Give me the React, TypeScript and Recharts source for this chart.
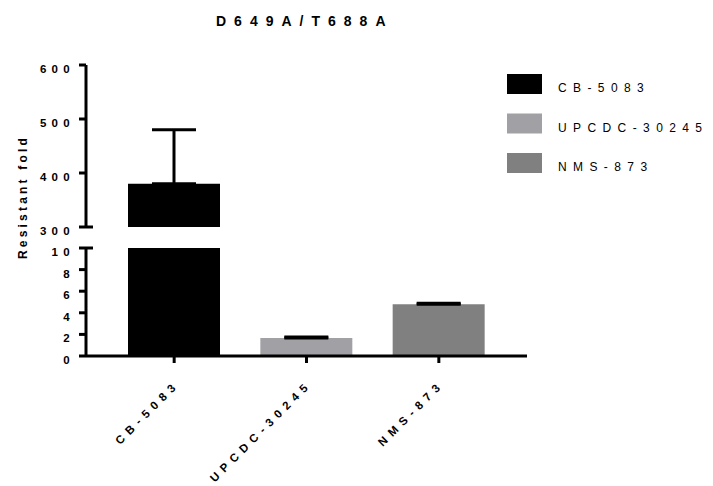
import { Bar, BarChart, Cell, ErrorBar, XAxis, YAxis } from 'recharts'

const categories = ['CB-5083', 'UPCDC-30245', 'NMS-873']
const foldMeans = [380, 1.67, 4.8]
const foldErrors = [100, 0.1, 0.08]
const barColors = ['#000000', '#a1a0a5', '#808080']

const upperTicks = [300, 400, 500, 600]
const lowerTicks = [0, 2, 4, 6, 8, 10]
const title = 'D649A/T688A'
const yLabel = 'Resistant fold'

const FONT = '"Liberation Sans", Arial, Helvetica, sans-serif'
const TICK_SIZE = 7
const TICK_MARGIN = 4

// split the values at the axis break: the upper panel only shows what is above 300
const upperRows = categories.map((name, i) => ({
  name,
  value: foldMeans[i] >= upperTicks[0] ? foldMeans[i] : null,
  err: [0, foldMeans[i] >= upperTicks[0] ? foldErrors[i] : 0],
}))
const lowerRows = categories.map((name, i) => ({
  name,
  value: foldMeans[i],
  err: [0, foldMeans[i] <= lowerTicks[lowerTicks.length - 1] ? foldErrors[i] : 0],
}))

const axisLine = { stroke: '#000', strokeWidth: 3 }
const tickLine = { stroke: '#000', strokeWidth: 3 }

function YTick(props: any) {
  const { x, y, payload, breakAt } = props
  const axisX = x + TICK_SIZE + TICK_MARGIN
  return (
    <g>
      <text
        x={x}
        y={y}
        dy={8}
        textAnchor="end"
        fill="#000"
        style={{ fontFamily: FONT, fontWeight: 700, fontSize: 11.5, letterSpacing: 5.3 }}
      >
        {payload.value}
      </text>
      {payload.value === breakAt && (
        <line x1={axisX} x2={axisX + TICK_SIZE} y1={y} y2={y} stroke="#000" strokeWidth={3} />
      )}
    </g>
  )
}

function XTick(props: any) {
  const { x, y, payload } = props
  const tx = x + 6
  const ty = y + 20
  return (
    <text
      x={tx}
      y={ty}
      transform={`rotate(-45 ${tx} ${ty})`}
      textAnchor="end"
      fill="#000"
      style={{ fontFamily: FONT, fontWeight: 700, fontSize: 11.5, letterSpacing: 5.6 }}
    >
      {payload.value}
    </text>
  )
}

export default function App() {
  return (
    <div style={{ position: 'absolute', left: 0, top: 0, width: 713, height: 486, background: '#fff', overflow: 'hidden' }}>
      <div style={{ position: 'absolute', left: 0, top: 0 }}>
        <BarChart width={713} height={240} data={upperRows} margin={{ top: 65, right: 186, bottom: 13, left: 0 }}>
          <XAxis dataKey="name" hide padding={{ left: 22, right: 22 }} />
          <YAxis
            width={86}
            domain={[300, 600]}
            ticks={upperTicks}
            allowDataOverflow
            interval={0}
            axisLine={axisLine}
            tickLine={tickLine}
            tickSize={TICK_SIZE}
            tickMargin={TICK_MARGIN}
            tick={<YTick breakAt={300} />}
          />
          <Bar dataKey="value" barSize={92} isAnimationActive={false}>
            {upperRows.map((r, i) => (
              <Cell key={r.name} fill={barColors[i]} />
            ))}
            <ErrorBar dataKey="err" width={22} stroke="#000" strokeWidth={3} isAnimationActive={false} />
          </Bar>
        </BarChart>
      </div>
      <div style={{ position: 'absolute', left: 0, top: 240 }}>
        <BarChart width={713} height={246} data={lowerRows} margin={{ top: 8, right: 186, bottom: 0, left: 0 }}>
          <XAxis
            dataKey="name"
            height={130}
            padding={{ left: 22, right: 22 }}
            interval={0}
            axisLine={axisLine}
            tickLine={tickLine}
            tickSize={TICK_SIZE}
            tick={<XTick />}
          />
          <YAxis
            width={86}
            domain={[0, 10]}
            ticks={lowerTicks}
            allowDataOverflow
            interval={0}
            axisLine={axisLine}
            tickLine={tickLine}
            tickSize={TICK_SIZE}
            tickMargin={TICK_MARGIN}
            tick={<YTick breakAt={10} />}
          />
          <Bar dataKey="value" barSize={92} isAnimationActive={false}>
            {lowerRows.map((r, i) => (
              <Cell key={r.name} fill={barColors[i]} />
            ))}
            <ErrorBar dataKey="err" width={22} stroke="#000" strokeWidth={3} isAnimationActive={false} />
          </Bar>
        </BarChart>
      </div>
      <svg width={713} height={486} style={{ position: 'absolute', left: 0, top: 0, pointerEvents: 'none' }}>
        <text
          x={216}
          y={26}
          fill="#000"
          style={{ fontFamily: FONT, fontWeight: 700, fontSize: 14, letterSpacing: 8 }}
        >
          {title}
        </text>
        <text
          x={27}
          y={197}
          transform="rotate(-90 27 197)"
          textAnchor="middle"
          fill="#000"
          style={{ fontFamily: FONT, fontWeight: 700, fontSize: 12, letterSpacing: 3.2 }}
        >
          {yLabel}
        </text>
        {categories.map((name, i) => (
          <g key={name}>
            <rect x={507} y={74 + i * 39.5} width={35} height={20} fill={barColors[i]} />
            <text
              x={558}
              y={92 + i * 39.5}
              fill="#000"
              style={{ fontFamily: FONT, fontSize: 12, letterSpacing: 6.4 }}
            >
              {name}
            </text>
          </g>
        ))}
      </svg>
    </div>
  )
}
